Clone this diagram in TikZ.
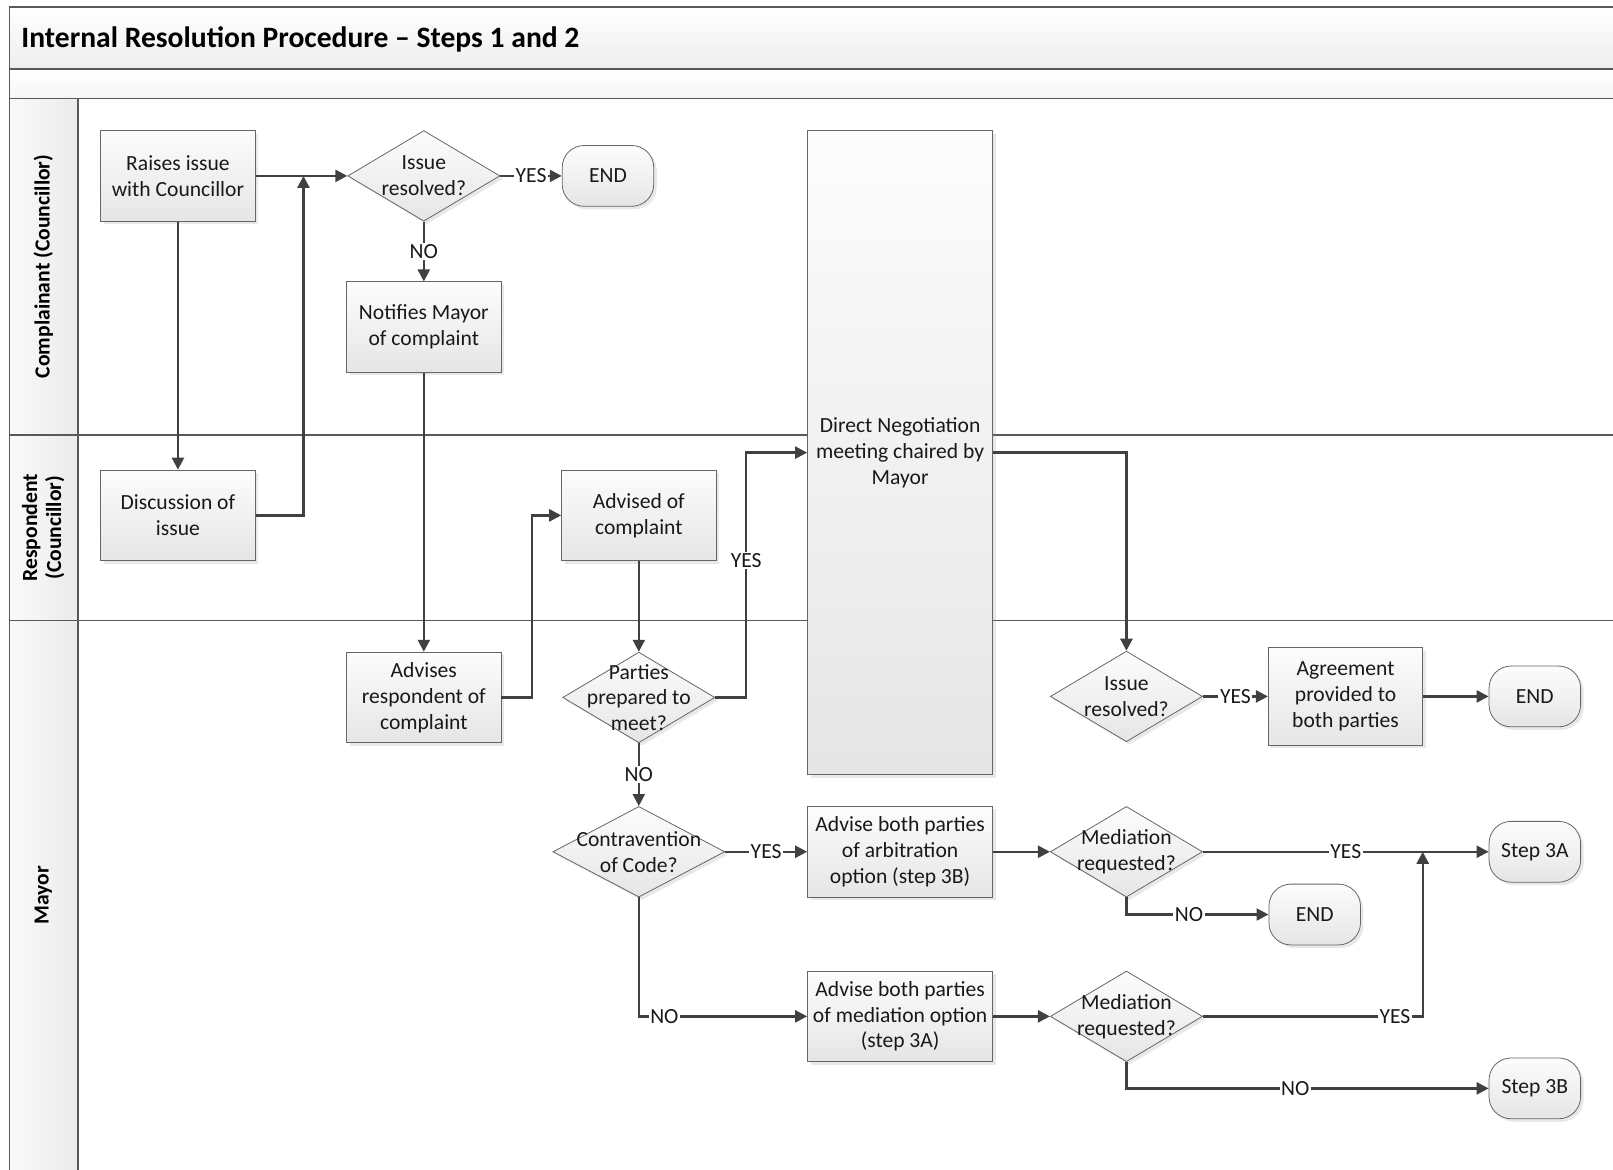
\documentclass[tikz,border=0pt]{standalone}
\usepackage{fontspec}
\setmainfont{Carlito}
\usetikzlibrary{shapes.geometric,arrows.meta,shadows}

\begin{document}
\begin{tikzpicture}[x=0.5144pt,y=-0.5144pt,
  every node/.style={font=\fontsize{10.8}{12.9}\selectfont, text=black!90},
  shade/.style={top color=black!1, bottom color=black!10,
    drop shadow={shadow xshift=1.5pt, shadow yshift=-1.5pt, opacity=0.18}},
  process/.style={draw=black!60, shade, minimum width=77.2pt, minimum height=45.3pt, align=center, inner sep=2pt},
  decision/.style={diamond, draw=black!60, shade, minimum width=76.1pt, minimum height=45.3pt, inner sep=0pt},
  dtext/.style={align=center, inner sep=0pt},
  terminal/.style={draw=black!60, shade, rounded corners=11pt, minimum width=45.8pt, minimum height=30.4pt, inner sep=1pt},
  lane/.style={draw=black!65, line width=0.7pt},
  lanetext/.style={rotate=90, align=center, font=\fontsize{10.8}{12}\selectfont\bfseries, text=black},
  flow/.style={draw=black!75, line width=1.2pt, -{Triangle[length=6pt,width=6pt]}},
  lbl/.style={fill=white, inner sep=0.8pt}]
\useasboundingbox (0,0) rectangle (1568,1137);
% frame and lanes
\path[top color=white, bottom color=black!7] (9,7) rectangle (1568,67);
\path[top color=white, bottom color=black!4] (9,67) rectangle (1568,96);
\path[left color=black!2, right color=black!8] (9,96) rectangle (76,1137);
\draw[lane] (1568,7) -- (9,7) -- (9,1137);
\draw[lane] (9,67) -- (1568,67);
\draw[lane] (9,96) -- (1568,96);
\draw[lane] (9,423) -- (1568,423);
\draw[lane] (9,603) -- (1568,603);
\draw[lane] (76,96) -- (76,1137);
\node[anchor=west, font=\fontsize{14.8}{17}\selectfont\bfseries, text=black] (title) at (14,38) {Internal Resolution Procedure – Steps 1 and 2};
\node[lanetext] (lane1) at (42,259) {Complainant (Councillor)};
\node[lanetext] (lane2) at (42,513) {Respondent\\(Councillor)};
\node[lanetext] (lane3) at (42,870) {Mayor};

% Complainant
\node[process] (raise) at (173,171) {Raises issue\\with Councillor};
\node[decision, label={[dtext]center:Issue\\resolved?}] (ir1) at (412,171) {};
\node[terminal] (end1) at (591,171) {END};
\node[process] (notify) at (412,318) {Notifies Mayor\\of complaint};
\node[process, minimum width=92.6pt, minimum height=322pt] (dn) at (875,440) {Direct Negotiation\\meeting chaired by\\Mayor};
\coordinate (j1) at (295,171);

% Respondent
\node[process] (disc) at (173,501) {Discussion of\\issue};
\node[process] (advised) at (621,501) {Advised of\\complaint};

% Mayor
\node[process] (advresp) at (412,678) {Advises\\respondent of\\complaint};
\node[decision, label={[dtext]center:Parties\\prepared to\\meet?}] (parties) at (621,678) {};
\node[decision, label={[dtext]center:Issue\\resolved?}] (ir2) at (1095,677) {};
\node[process, minimum height=48.9pt] (agree) at (1308,677) {Agreement\\provided to\\both parties};
\node[terminal] (end2) at (1492,677) {END};
\node[decision, minimum width=85.9pt, label={[dtext]center:Contravention\\of Code?}] (contra) at (621,828) {};
\node[process, minimum width=92.6pt] (arbit) at (875,828) {Advise both parties\\of arbitration\\option (step 3B)};
\node[decision, label={[dtext]center:Mediation\\requested?}] (med1) at (1095,828) {};
\node[terminal] (step3a) at (1492,828) {Step 3A};
\node[terminal] (end3) at (1278,889) {END};
\node[process, minimum width=92.6pt] (medopt) at (875,988) {Advise both parties\\of mediation option\\(step 3A)};
\node[decision, label={[dtext]center:Mediation\\requested?}] (med2) at (1095,988) {};
\node[terminal] (step3b) at (1492,1058) {Step 3B};
\coordinate (j2) at (1383,828);

\path[flow] (raise) -- (ir1);
\path[flow] (raise) -- (disc);
\path[flow] (disc.east) -| (j1);
\path[flow] (ir1) -- node[lbl]{YES} (end1);
\path[flow] (ir1) -- node[lbl]{NO} (notify);
\path[flow] (notify) -- (advresp);
\path[flow] (advresp.east) -- ++(30,0) |- (advised.west);
\path[flow] (advised) -- (parties);
\path[flow] (parties.east) -- ++(30,0) |- node[lbl,pos=0.28]{YES} (dn.west);
\path[flow] (dn.east) -| (ir2);
\path[flow] (ir2) -- node[lbl]{YES} (agree);
\path[flow] (agree) -- (end2);
\path[flow] (parties) -- node[lbl]{NO} (contra);
\path[flow] (contra) -- node[lbl]{YES} (arbit);
\path[flow] (contra.south) |- node[lbl,pos=0.576]{NO} (medopt);
\path[flow] (arbit) -- (med1);
\path[flow] (med1) -- node[lbl]{YES} (step3a);
\path[flow] (med1.south) |- node[lbl,pos=0.72]{NO} (end3);
\path[flow] (medopt) -- (med2);
\path[flow] (med2.east) -| node[lbl,pos=0.437]{YES} (j2);
\path[flow] (med2.south) |- node[lbl,pos=0.733]{NO} (step3b);
\end{tikzpicture}
\end{document}
